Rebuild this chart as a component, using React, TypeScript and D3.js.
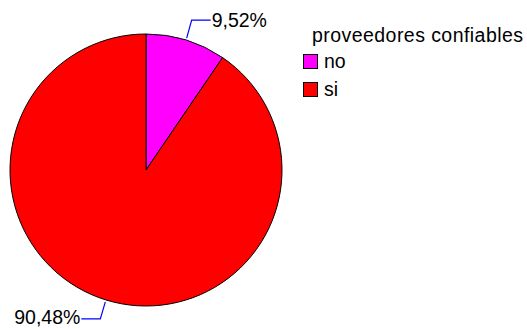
import React from "react";
import * as d3 from "d3";

const categories = ["no", "si"];
const values = [9.52, 90.48];
const labels = ["9,52%", "90,48%"];
const colors = ["#FF00FF", "#FF0000"];
const legendTitle = "proveedores confiables";

export default function App() {
  const W = 527, H = 329;
  const cx = 146, cy = 170, r = 136;
  const pie = d3.pie<number>().sort(null).value((d) => d)(values);
  const arc = d3.arc<d3.PieArcDatum<number>>().innerRadius(0).outerRadius(r);
  const font = "Arial, 'Liberation Sans', sans-serif";
  const leaders = [
    { dx: 5, dy: -18, hx: 19, anchor: "start", ty: 7 },
    { dx: -5, dy: 17, hx: -19, anchor: "end", ty: 5 },
  ];
  return (
    <svg width={W} height={H} style={{ position: "absolute", left: 0, top: 0, background: "#fff" }}>
      <g transform={`translate(${cx},${cy})`}>
        {pie.map((p, i) => (
          <path key={i} d={arc(p) || ""} fill={colors[i]} stroke="#000" strokeWidth={1} />
        ))}
        {pie.map((p, i) => {
          const a = (p.startAngle + p.endAngle) / 2;
          const x0 = (r + 2) * Math.sin(a);
          const y0 = -(r + 2) * Math.cos(a);
          const L = leaders[i];
          const x1 = x0 + L.dx, y1 = y0 + L.dy;
          const x2 = x1 + L.hx;
          return (
            <g key={"l" + i}>
              <polyline points={`${x0},${y0} ${x1},${y1} ${x2},${y1}`} fill="none" stroke="#0000FF" strokeWidth={1.2} />
              <text x={i === 0 ? x2 + 1 : x2 - 1} y={y1 + L.ty} fontFamily={font} fontSize={19.5} textAnchor={L.anchor as any} fill="#000">
                {labels[i]}
              </text>
            </g>
          );
        })}
      </g>
      <g fontFamily={font} fill="#000">
        <text x={312} y={42} fontSize={19.5} textLength={211} lengthAdjust="spacing">{legendTitle}</text>
        {categories.map((c, i) => (
          <g key={c} transform={`translate(303,${54 + i * 28})`}>
            <rect x={0.5} y={0.5} width={14} height={14} fill={colors[i]} stroke="#000" strokeWidth={1} />
            <text x={21} y={14} fontSize={19.5}>{c}</text>
          </g>
        ))}
      </g>
    </svg>
  );
}
